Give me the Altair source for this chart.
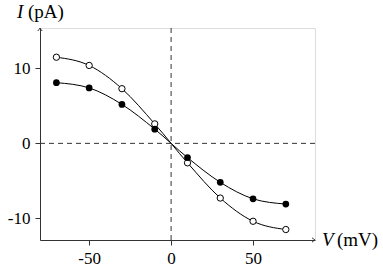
import altair as alt
import pandas as pd

voltage = [-70, -50, -30, -10, 10, 30, 50, 70]
open_current = [11.5, 10.4, 7.3, 2.6, -2.6, -7.3, -10.4, -11.5]
filled_current = [8.1, 7.4, 5.2, 1.9, -1.9, -5.2, -7.4, -8.1]

x_ticks = [-50, 0, 50]
y_ticks = [-10, 0, 10]
x_domain = [-80, 87.8]
y_domain = [-12.9, 15.4]

rows = []
for v, a, b in zip(voltage, open_current, filled_current):
    rows.append({"V": v, "I": a, "series": "open"})
    rows.append({"V": v, "I": b, "series": "filled"})
df = pd.DataFrame(rows)

FONT = "Liberation Serif"
AX = "#333333"

xs = alt.Scale(domain=x_domain, nice=False, zero=False)
ys = alt.Scale(domain=y_domain, nice=False, zero=False)

base = alt.Chart(df)

lines = base.mark_line(color="black", strokeWidth=1, interpolate="monotone").encode(
    x=alt.X("V:Q", scale=xs, axis=alt.Axis(values=x_ticks, title=None, grid=False,
            tickSize=5, labelPadding=5, labelExpr="'' + datum.value")),
    y=alt.Y("I:Q", scale=ys, axis=alt.Axis(values=y_ticks, title=None, grid=False,
            tickSize=5, labelPadding=5, labelExpr="'' + datum.value")),
    detail="series:N",
)

pts_open = base.transform_filter(alt.datum.series == "open").mark_point(
    shape="circle", filled=True, fill="white", stroke="black", strokeWidth=1, size=40, opacity=1
).encode(x=alt.X("V:Q", scale=xs), y=alt.Y("I:Q", scale=ys))

pts_filled = base.transform_filter(alt.datum.series == "filled").mark_point(
    shape="circle", filled=True, color="black", size=45, opacity=1
).encode(x=alt.X("V:Q", scale=xs), y=alt.Y("I:Q", scale=ys))

hrule = alt.Chart(pd.DataFrame({"z": [0]})).mark_rule(
    color="#333333", strokeWidth=1, strokeDash=[5, 4]
).encode(y=alt.Y("z:Q", scale=ys))
vrule = alt.Chart(pd.DataFrame({"z": [0]})).mark_rule(
    color="#333333", strokeWidth=1, strokeDash=[5, 4]
).encode(x=alt.X("z:Q", scale=xs))

one = pd.DataFrame({"a": [0]})
arrow_x = alt.Chart(one).mark_point(
    shape="M -1.5 -1.1 Q -0.5 -0.3 0 0 Q -0.5 0.3 -1.5 1.1",
    filled=False, stroke=AX, strokeWidth=1, size=16, opacity=1
).encode(x=alt.value(275), y=alt.value(212))
arrow_y = alt.Chart(one).mark_point(
    shape="M -1.1 1.5 Q -0.3 0.5 0 0 Q 0.3 0.5 1.1 1.5",
    filled=False, stroke=AX, strokeWidth=1, size=16, opacity=1
).encode(x=alt.value(0), y=alt.value(0))

t_I = alt.Chart(one).mark_text(
    text="I", font=FONT, fontSize=19, fontStyle="italic", align="left", baseline="alphabetic"
).encode(x=alt.value(-23), y=alt.value(-10))
t_pA = alt.Chart(one).mark_text(
    text="(pA)", font=FONT, fontSize=19, align="left", baseline="alphabetic"
).encode(x=alt.value(-12), y=alt.value(-10))
t_V = alt.Chart(one).mark_text(
    text="V", font=FONT, fontSize=19, fontStyle="italic", align="left", baseline="alphabetic"
).encode(x=alt.value(282), y=alt.value(218))
t_mV = alt.Chart(one).mark_text(
    text="(mV)", font=FONT, fontSize=19, align="left", baseline="alphabetic"
).encode(x=alt.value(297), y=alt.value(218))

chart = alt.layer(
    hrule, vrule, lines, pts_open, pts_filled, arrow_x, arrow_y, t_I, t_pA, t_V, t_mV
).properties(
    width=275, height=212,
    padding={"left": 40, "top": 28, "right": 68, "bottom": 28},
    autosize=alt.AutoSizeParams(type="none"),
).configure_view(stroke=None).configure(background="white").configure_axis(
    labelFont=FONT, labelFontSize=17, labelColor="black",
    domainColor=AX, tickColor=AX, domainWidth=1, tickWidth=1,
)

chart.save("out.html", embed_options={"renderer": "svg", "actions": False})
